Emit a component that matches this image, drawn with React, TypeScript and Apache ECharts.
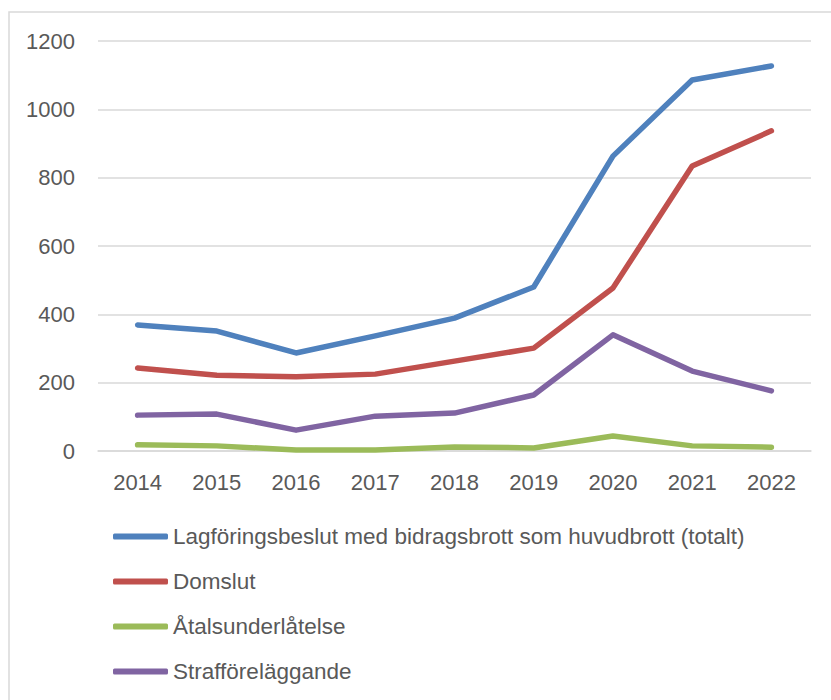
import React, { useEffect, useRef } from "react";
import * as echarts from "echarts";

const years = ["2014", "2015", "2016", "2017", "2018", "2019", "2020", "2021", "2022"];
const seriesNames = [
  "Lagföringsbeslut med bidragsbrott som huvudbrott (totalt)",
  "Domslut",
  "Åtalsunderlåtelse",
  "Strafföreläggande",
];
const totalt = [369, 351, 287, 337, 389, 480, 863, 1086, 1127];
const domslut = [243, 222, 217, 225, 263, 301, 477, 834, 937];
const atalsunderlatelse = [18, 15, 3, 3, 12, 9, 44, 15, 11];
const strafforelaggande = [105, 108, 61, 102, 111, 164, 340, 234, 176];
const colors = ["#4F81BD", "#C0504D", "#9BBB59", "#8064A2"];

const FONT = "Liberation Sans";
const TEXT = "#595959";

export default function App() {
  const ref = useRef<HTMLDivElement>(null);
  useEffect(() => {
    document.body.style.margin = "0";
    const chart = echarts.init(ref.current!, null, { renderer: "svg" });
    const data = [totalt, domslut, atalsunderlatelse, strafforelaggande];
    chart.setOption({
      animation: false,
      backgroundColor: "#ffffff",
      textStyle: { fontFamily: FONT, color: TEXT },
      graphic: [
        {
          type: "rect",
          shape: { x: 9, y: 12, width: 900, height: 800 },
          style: { fill: "none", stroke: "#d9d9d9", lineWidth: 1.5 },
          silent: true,
        },
      ],
      grid: { left: 98, right: 20, top: 41, bottom: 249 },
      xAxis: {
        type: "category",
        data: years,
        boundaryGap: true,
        axisLine: { show: true, lineStyle: { color: "#d9d9d9", width: 1.5 } },
        axisTick: { show: false },
        axisLabel: { color: TEXT, fontFamily: FONT, fontSize: 22, margin: 20 },
      },
      yAxis: {
        type: "value",
        min: 0,
        max: 1200,
        interval: 200,
        axisLine: { show: false },
        axisTick: { show: false },
        splitLine: { lineStyle: { color: "#d9d9d9", width: 1.5 } },
        axisLabel: {
          color: TEXT,
          fontFamily: FONT,
          fontSize: 22,
          margin: 23,
          formatter: (v: number) => String(v),
        },
      },
      legend: {
        orient: "vertical",
        left: 108,
        top: 520,
        itemGap: 22,
        itemWidth: 55,
        itemHeight: 6,
        icon: "roundRect",
        data: seriesNames,
        textStyle: { color: TEXT, fontFamily: FONT, fontSize: 22.5 },
      },
      series: seriesNames.map((name, i) => ({
        name,
        type: "line",
        data: data[i],
        showSymbol: false,
        symbol: "none",
        color: colors[i],
        lineStyle: { color: colors[i], width: 5.5, cap: "round", join: "round" },
        z: 10 - i,
      })),
    });
    return () => chart.dispose();
  }, []);
  return <div ref={ref} style={{ width: 831, height: 700 }} />;
}
